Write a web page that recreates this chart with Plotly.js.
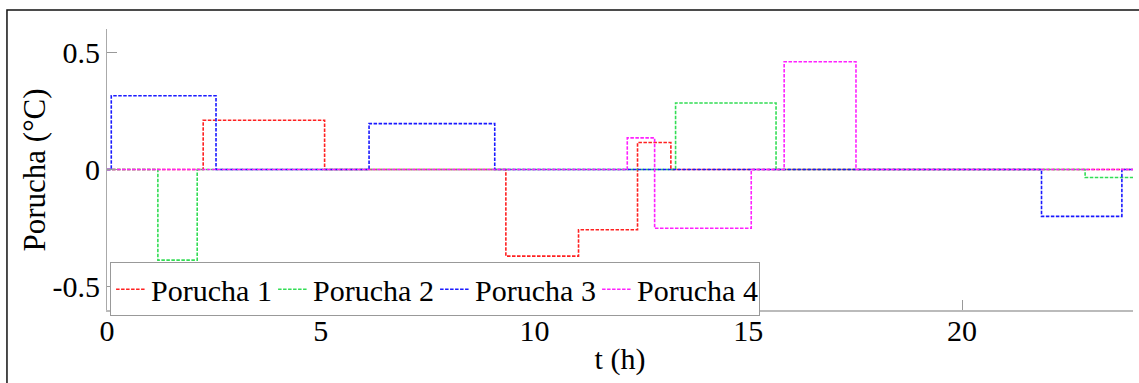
<!DOCTYPE html>
<html><head><meta charset="utf-8">
<script src="https://cdn.plot.ly/plotly-3.0.1.min.js"></script>
<style>html,body{margin:0;padding:0;background:#fff}#chart{width:1139px;height:383px}</style>
</head><body><div id="chart"></div>
<script>
// Step change points (t in hours) and fault values (°C)
const t1 = [0, 2.25, 5.09, 9.33, 11.03, 12.41, 13.19, 24];
const p1 = [0, 0.21, 0, -0.37, -0.257, 0.115, 0, 0];
const t2 = [0, 1.19, 2.11, 13.3, 15.65, 22.88, 24];
const p2 = [0, -0.387, 0, 0.284, 0, -0.034, -0.034];
const t3 = [0, 0.1, 2.55, 6.13, 9.07, 21.86, 23.74, 24];
const p3 = [0, 0.315, 0, 0.196, 0, -0.2, 0, 0];
const t4 = [0, 12.17, 12.81, 15.07, 15.84, 17.52, 24];
const p4 = [0, 0.135, -0.251, 0, 0.46, 0, 0];
const names = ["Porucha 1", "Porucha 2", "Porucha 3", "Porucha 4"];
const colors = ["#ff2020", "#33dd55", "#1a1aff", "#ff20ff"];
const xTicks = [0, 5, 10, 15, 20];
const yTicks = [0.5, 0, -0.5];
const yTickText = ["0.5", "0", "-0.5"];

const xs = [t1, t2, t3, t4], ys = [p1, p2, p3, p4];
const data = xs.map((x, i) => ({
  x: x, y: ys[i], name: names[i], type: 'scatter', mode: 'lines',
  line: {shape: 'hv', color: colors[i], width: 1.6, dash: '3.5px,1.5px'}
}));
const fam = 'Liberation Serif, Times New Roman, serif';
const font = {family: fam, size: 30, color: '#000'};
const layout = {
  width: 1139, height: 383,
  margin: {l: 107, r: 6, t: 29, b: 73},
  paper_bgcolor: '#fff', plot_bgcolor: '#fff',
  font: font,
  showlegend: true,
  legend: {orientation: 'h', x: 0.003, y: 0.17, xanchor: 'left', yanchor: 'top',
    bgcolor: '#fff', bordercolor: '#999', borderwidth: 1, font: font,
    tracegroupgap: 0, entrywidth: 117},
  xaxis: {range: [0, 24], tickvals: xTicks, ticks: 'inside', ticklen: 10, tickcolor: '#999',
    showline: true, linecolor: '#bbb', linewidth: 1.5, showgrid: false, zeroline: false,
    ticklabelstandoff: -7,
    title: {text: 't (h)', font: font, standoff: 2}, tickfont: font},
  yaxis: {range: [-0.6, 0.6], tickvals: yTicks, ticktext: yTickText, ticks: 'inside', ticklen: 10,
    tickcolor: '#999', showline: true, linecolor: '#aaa', linewidth: 1, showgrid: false, zeroline: false,
    tickfont: font},
  annotations: [{text: 'Porucha (°C)', xref: 'paper', yref: 'paper', x: -0.0702, y: 0.5,
    xanchor: 'center', yanchor: 'middle', textangle: -90, showarrow: false,
    font: {family: fam, size: 31, color: '#000'}}],
  shapes: [{type: 'rect', xref: 'paper', yref: 'paper', x0: -0.0975, x1: 1.02, y0: -0.4, y1: 1.0676,
    line: {color: '#111', width: 1.5}, layer: 'below'}]
};
Plotly.newPlot('chart', data, layout, {staticPlot: true});
</script></body></html>
